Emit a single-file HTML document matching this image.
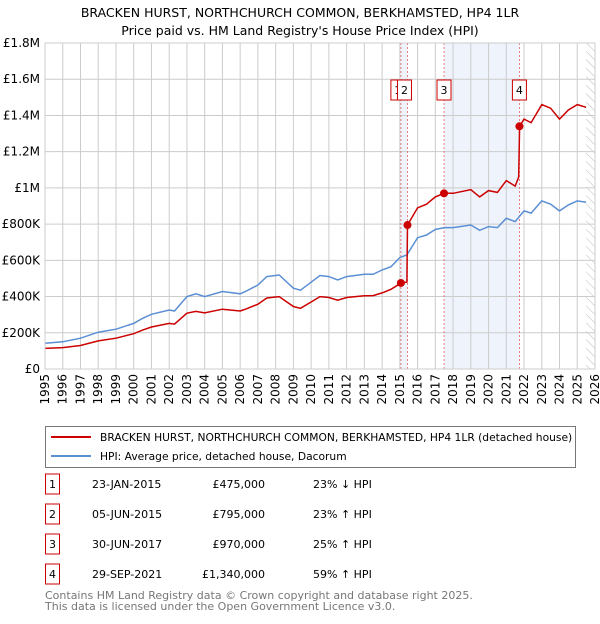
<!DOCTYPE html>
<html><head><meta charset="utf-8"><style>
body{margin:0;background:#fff;width:600px;height:620px;overflow:hidden;font-family:"DejaVu Sans","Liberation Sans",sans-serif;}
svg text{font-family:"DejaVu Sans","Liberation Sans",sans-serif;}
</style></head><body>
<svg id="c" width="600" height="620">
<text x="300" y="17" text-anchor="middle" font-size="12.5">BRACKEN HURST, NORTHCHURCH COMMON, BERKHAMSTED, HP4 1LR</text>
<text x="300" y="35" text-anchor="middle" font-size="12.5">Price paid vs. HM Land Registry's House Price Index (HPI)</text>
<g id="plot"></g>
<g>
<rect x="45.5" y="426.5" width="530" height="41" fill="#fff" stroke="#777"/>
<line x1="51" y1="437" x2="91" y2="437" stroke="#cc0000" stroke-width="2"/>
<text x="100" y="441" font-size="10.7">BRACKEN HURST, NORTHCHURCH COMMON, BERKHAMSTED, HP4 1LR (detached house)</text>
<line x1="51" y1="456" x2="91" y2="456" stroke="#5b8fd4" stroke-width="2"/>
<text x="100" y="460" font-size="10.7">HPI: Average price, detached house, Dacorum</text>
</g>
<g id="tbl" font-size="11"></g>
<text x="45" y="599" font-size="11" fill="#777">Contains HM Land Registry data © Crown copyright and database right 2025.</text>
<text x="45" y="610" font-size="11" fill="#777">This data is licensed under the Open Government Licence v3.0.</text>
</svg>
<script>
const hpiYears=[1995,1996,1997,1998,1999,2000,2000.5,2001,2002,2002.3,2003,2003.5,2004,2005,2006,2006.3,2007,2007.5,2008.2,2009,2009.4,2010,2010.5,2011,2011.5,2012,2013,2013.5,2014,2014.5,2015,2015.4,2016,2016.5,2017,2017.5,2018,2019,2019.5,2020,2020.5,2021,2021.5,2022,2022.4,2023,2023.5,2024,2024.5,2025,2025.5];
const hpiValues=[142,150,170,203,220,252,280,302,326,320,400,415,400,428,415,428,464,510,519,446,435,479,516,510,492,510,523,523,547,565,615,630,725,740,770,781,781,795,766,786,781,832,814,873,861,928,910,873,906,928,921];
const redYears=[1995,1996,1997,1998,1999,2000,2000.5,2001,2002,2002.3,2003,2003.5,2004,2005,2006,2006.3,2007,2007.5,2008.2,2009,2009.4,2010,2010.5,2011,2011.5,2012,2013,2013.5,2014,2014.5,2015.07,2015.4,2015.43,2016,2016.5,2017,2017.5,2018,2019,2019.5,2020,2020.5,2021,2021.5,2021.7,2021.75,2022,2022.4,2023,2023.5,2024,2024.5,2025,2025.5];
const redValues=[114,118,130,155,170,195,215,232,252,248,308,318,310,330,320,330,358,392,400,345,335,370,400,395,380,395,404,405,420,440,475,480,795,890,910,950,970,970,990,950,985,975,1040,1010,1060,1340,1380,1360,1460,1440,1380,1430,1460,1445];
const saleLabels=["1","2","3","4"];
const saleYears=[2015.06,2015.43,2017.49,2021.74];
const saleValues=[475,795,970,1340];
const saleDates=["23-JAN-2015","05-JUN-2015","30-JUN-2017","29-SEP-2021"];
const salePrices=["£475,000","£795,000","£970,000","£1,340,000"];
const saleHpi=["23% ↓ HPI","23% ↑ HPI","25% ↑ HPI","59% ↑ HPI"];
const yTicks=[0,200,400,600,800,1000,1200,1400,1600,1800];
const yTickLabels=["£0","£200K","£400K","£600K","£800K","£1M","£1.2M","£1.4M","£1.6M","£1.8M"];
const xTicks=[];for(let y=1995;y<=2026;y++)xTicks.push(y);

const NS="http://www.w3.org/2000/svg";
const L=45,R=595,T=43,B=369,x0=1995,x1=2026,ymax=1800;
const X=v=>L+(v-x0)/(x1-x0)*(R-L);
const Y=v=>B-v/ymax*(B-T);
const g=document.getElementById('plot');
function mk(t,a,p){const e=document.createElementNS(NS,t);for(const k in a)e.setAttribute(k,a[k]);(p||g).appendChild(e);return e;}
let e;
e=mk('rect',{x:X(saleYears[0]),y:T,width:X(saleYears[1])-X(saleYears[0]),height:B-T,fill:'#eef3fc'});


e=mk('rect',{x:X(saleYears[2]),y:T,width:X(saleYears[3])-X(saleYears[2]),height:B-T,fill:'#eef3fc'});


const defs=mk('defs',{});
const pat=mk('pattern',{id:'h',width:6,height:6,patternUnits:'userSpaceOnUse',patternTransform:'rotate(-45)'},defs);
mk('line',{x1:0,y1:0,x2:0,y2:6,stroke:'#bbb','stroke-width':1},pat);
e=mk('rect',{x:X(2025.5),y:T,width:R-X(2025.5),height:B-T,fill:'url(#h)'});


yTicks.forEach((v,i)=>{
 e=mk('line',{x1:L,x2:R,y1:Y(v),y2:Y(v),stroke:'#ccc'});
 
 
 e=mk('text',{x:L-5,y:Y(v)+4,'text-anchor':'end','font-size':12});e.textContent=yTickLabels[i];
 
 
});
xTicks.forEach(v=>{
 e=mk('line',{x1:X(v),x2:X(v),y1:T,y2:B,stroke:'#ccc'});
 
 
 e=mk('text',{x:0,y:0,'text-anchor':'end','font-size':12,transform:`translate(${X(v)+4},${B+5}) rotate(-90)`});e.textContent=v;
 
 
});
saleYears.forEach(v=>{
 e=mk('line',{x1:X(v),x2:X(v),y1:T,y2:B,stroke:'#e06060','stroke-dasharray':'2,2','stroke-width':0.8});
 
 
});
function path(xs,vs){return xs.map((x,i)=>(i?'L':'M')+X(x).toFixed(1)+','+Y(vs[i]).toFixed(1)).join('');}
e=mk('path',{d:path(hpiYears,hpiValues),fill:'none',stroke:'#5b8fd4','stroke-width':1.5});


e=mk('path',{d:path(redYears,redValues),fill:'none',stroke:'#cc0000','stroke-width':1.5});


saleYears.forEach((v,i)=>{
 e=mk('circle',{cx:X(v),cy:Y(saleValues[i]),r:4,fill:'#cc0000'});
 
 
 e=mk('rect',{x:(i<2?X(v)-10:X(v)-7),y:80,width:14,height:20,fill:'#fff',stroke:'#cc0000'});
 
 
 e=mk('text',{x:(i<2?X(v)-3:X(v)),y:94,'text-anchor':'middle','font-size':11});e.textContent=saleLabels[i];
 
 
});
mk('rect',{x:L,y:T,width:R-L,height:B-T,fill:'none',stroke:'#ccc'});
const tb=document.getElementById('tbl');
saleLabels.forEach((s,i)=>{
 const cy=484+i*30;
 e=mk('rect',{x:45.5,y:cy-10,width:14,height:20,fill:'#fff',stroke:'#cc0000'},tb);
 
 
 e=mk('text',{x:52.5,y:cy+4,'text-anchor':'middle'},tb);e.textContent=s;
 
 
 e=mk('text',{x:92,y:cy+4},tb);e.textContent=saleDates[i];
 
 
 e=mk('text',{x:265,y:cy+4,'text-anchor':'end'},tb);e.textContent=salePrices[i];
 
 
 e=mk('text',{x:313,y:cy+4},tb);e.textContent=saleHpi[i];
 
 
});
</script>
</body></html>
